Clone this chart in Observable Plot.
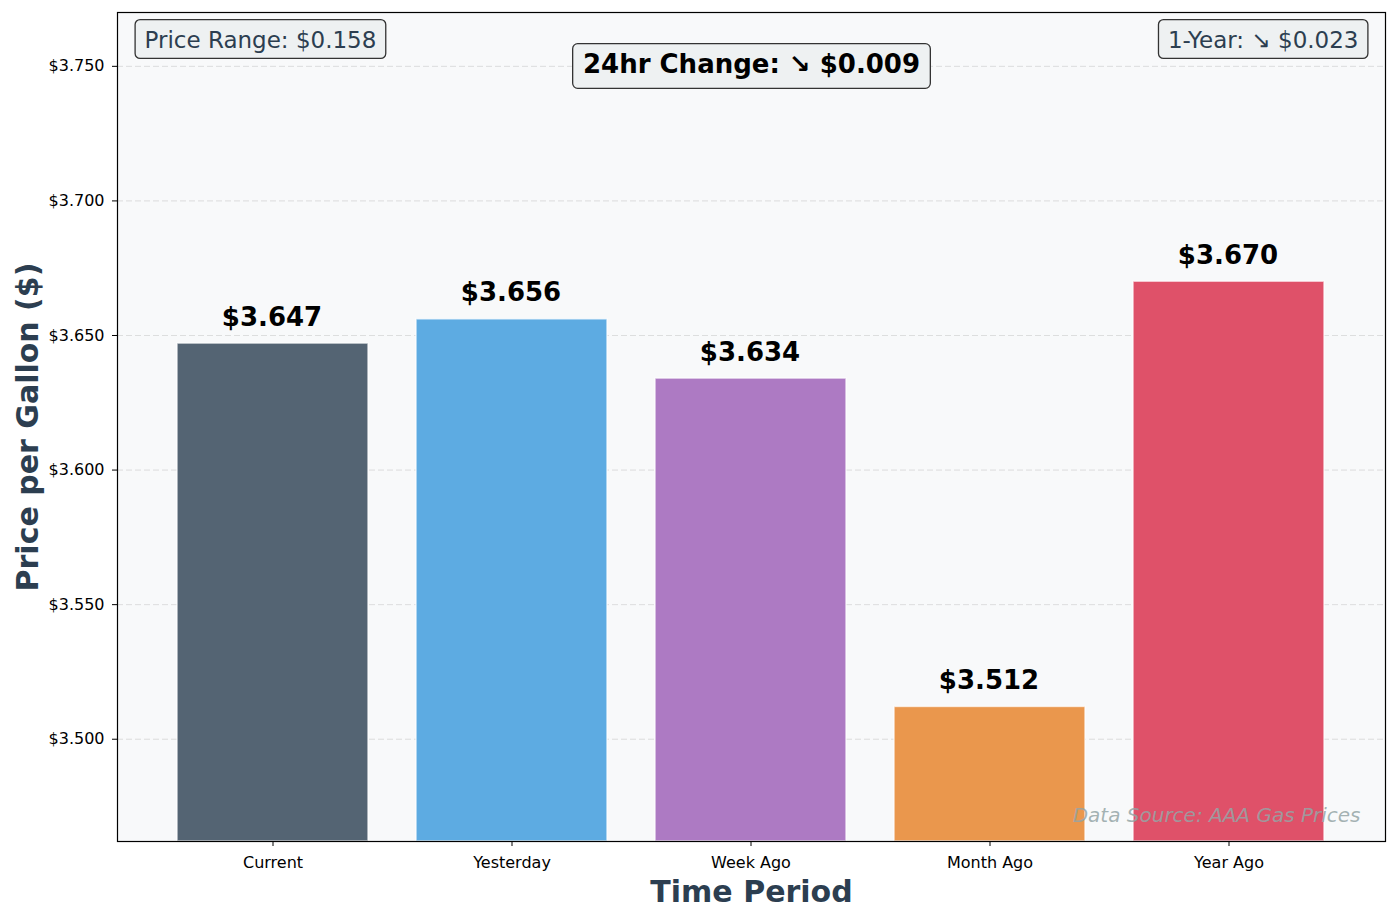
<!DOCTYPE html>
<html>
<head>
<meta charset="utf-8">
<script src="https://cdn.jsdelivr.net/npm/d3@7"></script>
<script src="https://cdn.jsdelivr.net/npm/@observablehq/plot@0.6"></script>
<style>
  html, body { margin: 0; padding: 0; background: #ffffff; }
  body { width: 1397px; height: 918px; overflow: hidden; }
  svg { display: block; font-family: "DejaVu Sans", sans-serif; }
</style>
</head>
<body>
<script>
const periods = ["Current", "Yesterday", "Week Ago", "Month Ago", "Year Ago"];
const prices = [3.647, 3.656, 3.634, 3.512, 3.670];
const barColors = ["#546473", "#5DABE2", "#AD7AC3", "#EA974D", "#DF5169"];
const yTicks = [3.500, 3.550, 3.600, 3.650, 3.700, 3.750];
const yDomain = [3.462, 3.770];
const annotLeft = ["Price Range: $0.158"];
const annotCenter = ["24hr Change: ↘ $0.009"];
const annotRight = ["1-Year: ↘ $0.023"];
const sourceNote = ["Data Source: AAA Gas Prices"];
const xTitle = ["Time Period"];
const yTitle = ["Price per Gallon ($)"];

const data = periods.map((p, i) => ({period: p, price: prices[i], color: barColors[i]}));
const fmt = v => "$" + v.toFixed(3);

const chart = Plot.plot({
  width: 1397,
  height: 918,
  marginLeft: 117,
  marginRight: 12,
  marginTop: 12,
  marginBottom: 77,
  style: {fontFamily: "DejaVu Sans, sans-serif", background: "#ffffff", overflow: "visible"},
  x: {type: "band", domain: periods, paddingInner: 0.2, paddingOuter: 0.2417},
  y: {domain: yDomain},
  color: {type: "identity"},
  marks: [
    Plot.frame({fill: "#f8f9fa", stroke: "none"}),
    Plot.gridY(yTicks, {stroke: "#bbbbbb", strokeOpacity: 0.45, strokeDasharray: "6,3", strokeWidth: 1}),
    Plot.barY(data, {x: "period", y1: () => yDomain[0], y2: "price", fill: "color",
      stroke: "#ffffff", strokeOpacity: 0.7, strokeWidth: 1.5}),
    Plot.text(data, {x: "period", y: "price", text: d => fmt(d.price), dy: -18, dx: -1,
      lineAnchor: "bottom", fontSize: 26, fontWeight: "bold", fill: "#000000"}),
    Plot.axisY({ticks: yTicks, tickFormat: fmt, tickSize: 5, tickPadding: 8, fontSize: 16, label: null, color: "#000"}),
    Plot.axisX({tickSize: 5, tickPadding: 10, fontSize: 16, label: null, color: "#000"}),
    Plot.text(annotLeft, {frameAnchor: "top-left", textAnchor: "start", dx: 27, dy: 35, lineAnchor: "bottom",
      fontSize: 23, fill: "#2c3e50"}),
    Plot.text(annotRight, {frameAnchor: "top-right", textAnchor: "end", dx: -27, dy: 35, lineAnchor: "bottom",
      fontSize: 23, fill: "#2c3e50"}),
    Plot.text(annotCenter, {frameAnchor: "top", dx: 0, dy: 60, lineAnchor: "bottom",
      fontSize: 26, fontWeight: "bold", fill: "#000000"}),
    Plot.text(sourceNote, {frameAnchor: "bottom-right", textAnchor: "end", dx: -25, dy: -20, lineAnchor: "bottom",
      fontSize: 20, fontStyle: "italic", fill: "#95a5a6", fillOpacity: 0.85}),
    Plot.text(xTitle, {frameAnchor: "bottom", dy: 60, lineAnchor: "bottom",
      fontSize: 30, fontWeight: "bold", fill: "#2c3e50"}),
    Plot.text(yTitle, {frameAnchor: "left", textAnchor: "middle", dx: -80, dy: 0, rotate: -90, lineAnchor: "bottom",
      fontSize: 30, fontWeight: "bold", fill: "#2c3e50"}),
    Plot.frame({stroke: "#000000", strokeWidth: 1.2})
  ]
});

document.body.append(chart);

const boxed = new Set([...annotLeft, ...annotCenter, ...annotRight]);
chart.querySelectorAll("text").forEach(t => {
  if (!boxed.has(t.textContent)) return;
  const b = t.getBBox();
  const fs = parseFloat(getComputedStyle(t).fontSize) || 23;
  const pad = 0.3 * fs;
  const padX = pad + 2.5;
  const shift = fs > 24 ? 3 : 0;
  const r = document.createElementNS("http://www.w3.org/2000/svg", "rect");
  r.setAttribute("x", b.x - padX);
  r.setAttribute("y", b.y - pad + shift);
  r.setAttribute("width", b.width + 2 * padX);
  r.setAttribute("height", b.height + 2 * pad - 1);
  r.setAttribute("rx", 5);
  r.setAttribute("fill", "#eef1f2");
  r.setAttribute("stroke", "#333333");
  r.setAttribute("stroke-width", 1.3);
  const tr = t.getAttribute("transform");
  if (tr) r.setAttribute("transform", tr);
  t.parentNode.insertBefore(r, t);
});
</script>
</body>
</html>
